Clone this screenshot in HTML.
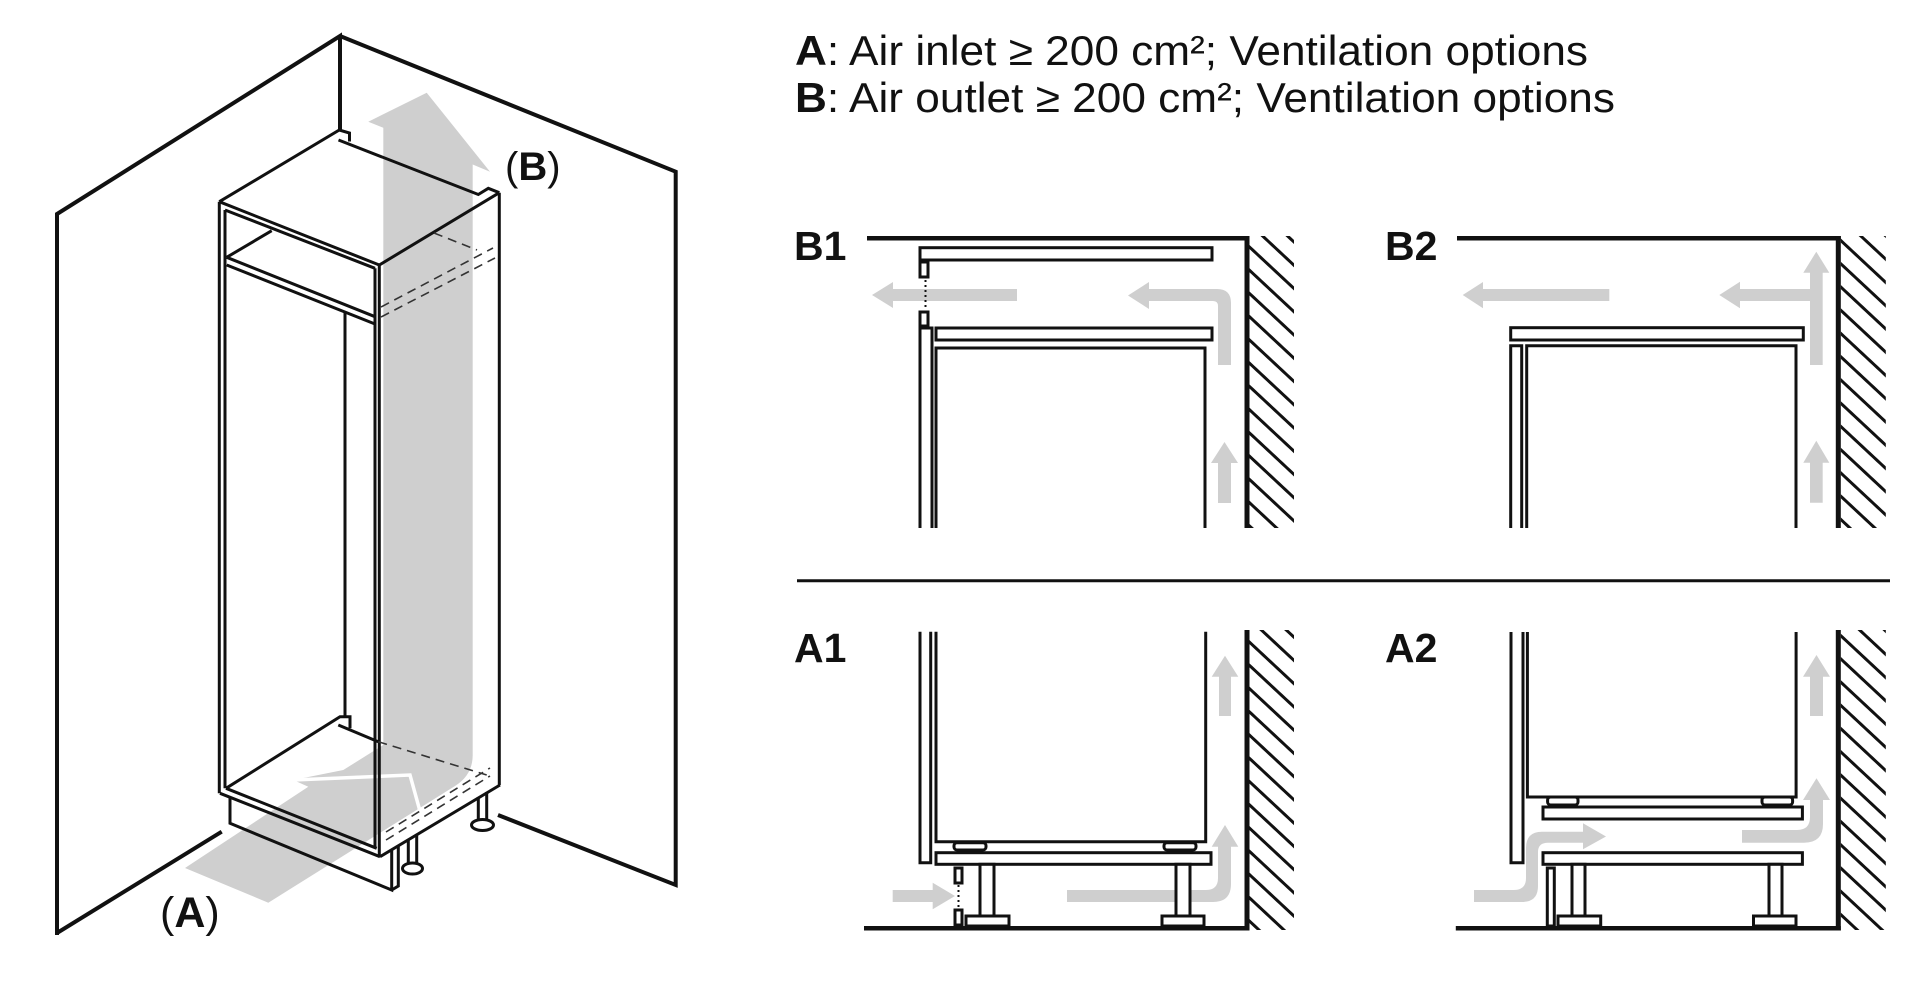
<!DOCTYPE html>
<html><head><meta charset="utf-8"><style>
html,body{margin:0;padding:0;background:#fff;}
svg{display:block;}
text{font-family:"Liberation Sans",Arial,sans-serif;fill:#111;}
</style></head><body>
<svg width="1928" height="1007" viewBox="0 0 1928 1007" xmlns="http://www.w3.org/2000/svg">
<defs>
<pattern id="h" patternUnits="userSpaceOnUse" width="40" height="17" patternTransform="rotate(43)">
<line x1="-5" y1="8.5" x2="45" y2="8.5" stroke="#111" stroke-width="3"/>
</pattern>
</defs>
<rect width="1928" height="1007" fill="#fff"/>

<!-- ============ LEFT ISOMETRIC DRAWING ============ -->
<g fill="#cfcfcf" stroke="none">
<path d="M185,868 L308.3,786.7 L293.3,780 L343.3,770 L383.3,745 L383.3,127.8 L368.3,121.7 L426.7,92.7 L490,171.7 L472.7,164.5 L472.7,755 Q472.7,775 455,786 L268.3,902.7 Z"/>
</g>
<path d="M293.3,780 L410,775 L423,822 L401,826" fill="none" stroke="#fff" stroke-width="3.5" stroke-linejoin="miter"/>

<!-- walls -->
<g fill="none" stroke="#111" stroke-width="4" stroke-linejoin="miter">
<path d="M57,935 V214 L340,36 V131"/>
<path d="M340,36 L675.7,171.7 V885 L498,815"/>
<path d="M57,933 L221.7,831.7"/>
</g>

<!-- cabinet -->
<g fill="none" stroke="#111" stroke-width="3" stroke-linejoin="miter">
<path d="M219.3,201.7 L339.3,130 L349.5,133 L349.5,141.5"/>
<path d="M338.5,140 L478.3,194.5 L488.3,188.3 L499.3,192.7"/>
<path d="M379.3,265 L499.3,192.7"/>
<path d="M219.3,201.7 L379.3,265"/>
<path d="M225,210 L375,268.3"/>
<path d="M219.3,201.7 V793.3"/>
<path d="M225,210 V788.3"/>
<path d="M379.3,265 V856.7"/>
<path d="M375,268.3 V848.3"/>
<path d="M499.3,192.7 V785"/>
<path d="M226.7,257.3 L375,316.7"/>
<path d="M226.7,265 L375,324"/>
<path d="M226.7,257.3 L271.7,230.7"/>
<path d="M345,313 V717"/>
<path d="M220,793.3 L380,856.7"/>
<path d="M226,788.3 L376.7,848.3"/>
<path d="M226,788.3 L340,716.7 L350,716.7 L350,728.3"/>
<path d="M338.3,725 L378.3,741.7"/>
<path d="M380,856.7 L500,785"/>
<path d="M230,798 V823.3 L391.7,890 V850"/>
<path d="M391.7,890 L398.3,886 V846"/>
<path d="M408.3,839 V866 M416.7,834 V866"/>
<path d="M478.3,797 V823 M486.7,792 V823"/>
</g>
<g fill="#fff" stroke="#111" stroke-width="3">
<ellipse cx="412.5" cy="868.5" rx="10" ry="5.5"/>
<ellipse cx="482.5" cy="825" rx="11" ry="5.5"/>
</g>
<g fill="none" stroke="#333" stroke-width="1.6" stroke-dasharray="9 6">
<path d="M381,307 L493,248"/>
<path d="M381,317 L495,258"/>
<path d="M434,233 L477,250"/>
<path d="M378.3,741.7 L486.7,775"/>
<path d="M386,840 L490,776"/>
<path d="M386,832 L490,768"/>
</g>

<text x="505" y="180" font-size="40">(<tspan font-weight="bold">B</tspan>)</text>
<text x="160" y="927" font-size="43">(<tspan font-weight="bold">A</tspan>)</text>

<!-- ============ HEADER TEXT ============ -->
<text x="795" y="65" font-size="42" textLength="793" lengthAdjust="spacingAndGlyphs"><tspan font-weight="bold">A</tspan>: Air inlet ≥ 200 cm²; Ventilation options</text>
<text x="795" y="112" font-size="42" textLength="820" lengthAdjust="spacingAndGlyphs"><tspan font-weight="bold">B</tspan>: Air outlet ≥ 200 cm²; Ventilation options</text>

<!-- labels -->
<g font-size="41" font-weight="bold">
<text x="794" y="260">B1</text>
<text x="1385" y="260">B2</text>
<text x="794" y="662">A1</text>
<text x="1385" y="662">A2</text>
</g>

<!-- separator -->
<path d="M797,580.7 H1890" stroke="#111" stroke-width="3"/>

<!-- hatches -->
<rect x="1249.5" y="236" width="44.5" height="292" fill="url(#h)"/>
<rect x="1840.8" y="236" width="45" height="292" fill="url(#h)"/>
<rect x="1249.5" y="630" width="44.5" height="300" fill="url(#h)"/>
<rect x="1840.8" y="630" width="45" height="300" fill="url(#h)"/>

<!-- gray arrows -->
<g fill="#cfcfcf" stroke="none">
<path d="M872,295 L893,282 L893,289 L1017,289 L1017,301 L893,301 L893,308 Z"/>
<path d="M1128,295.5 L1149,282 L1149,289 L1217,289 Q1231,289 1231,303 L1231,365 L1218,365 L1218,306 Q1218,301 1213,301 L1149,301 L1149,309 Z"/>
<path d="M1224.5,442 L1238,463 L1231,463 L1231,503 L1218,503 L1218,463 L1211,463 Z"/>

<path d="M1462.7,295 L1483,282 L1483,289 L1609.3,289 L1609.3,301 L1483,301 L1483,308.3 Z"/>
<path d="M1816.3,251.7 L1829.3,272.7 L1822.7,272.7 L1822.7,365 L1810,365 L1810,301 L1740,301 L1740,308.3 L1719.3,295 L1740,281.7 L1740,289 L1810,289 L1810,272.7 L1803.3,272.7 Z"/>
<path d="M1816.3,440.7 L1829.3,462.7 L1822.7,462.7 L1822.7,502.7 L1810,502.7 L1810,462.7 L1803.3,462.7 Z"/>

<path d="M892.7,890 L932.7,890 L932.7,882.7 L955,896 L932.7,909.3 L932.7,902 L892.7,902 Z"/>
<path d="M1067,890 L1206,890 Q1218,890 1218,878 L1218,846.7 L1211.7,846.7 L1225,825 L1238.3,846.7 L1231,846.7 L1231,884 Q1231,902 1213,902 L1067,902 Z"/>
<path d="M1225,655.7 L1238.3,676.7 L1231,676.7 L1231,716 L1219,716 L1219,676.7 L1211.7,676.7 Z"/>

<path d="M1474,890 L1514,890 Q1526,890 1526,878 L1526,848 Q1526,831.7 1542,831.7 L1583,831.7 L1583,823.3 L1606,836.5 L1583,849.3 L1583,842.7 L1548,842.7 Q1538,842.7 1538,852 L1538,886 Q1538,902 1522,902 L1474,902 Z"/>
<path d="M1742,830 L1797,830 Q1810,830 1810,817 L1810,800 L1803,800 L1816.5,778.3 L1830,800 L1823,800 L1823,824 Q1823,842.7 1804,842.7 L1742,842.7 Z"/>
<path d="M1816.5,655 L1830,676.7 L1823,676.7 L1823,716 L1810,716 L1810,676.7 L1803,676.7 Z"/>
</g>

<!-- ============ B1 ============ -->
<g fill="none" stroke="#111">
<path d="M867,238.3 H1249.5" stroke-width="4.5"/>
<path d="M1247,236 V528" stroke-width="5"/>
</g>
<g fill="#fff" stroke="#111" stroke-width="3">
<rect x="920" y="247.7" width="292" height="12.3"/>
<rect x="920" y="262" width="8" height="15"/>
<rect x="920" y="312" width="8" height="14"/>
<rect x="936" y="328" width="276" height="12"/>
</g>
<path d="M925.5,280 V310" stroke="#111" stroke-width="2" stroke-dasharray="2 3"/>
<g fill="none" stroke="#111" stroke-width="3">
<path d="M920,528 V328 H932 V528"/>
<path d="M936,528 V348 H1205 V528"/>
</g>

<!-- ============ B2 ============ -->
<g fill="none" stroke="#111">
<path d="M1457,238.3 H1840.8" stroke-width="4.5"/>
<path d="M1838.3,236 V528" stroke-width="5"/>
</g>
<g fill="#fff" stroke="#111" stroke-width="3">
<rect x="1510.7" y="327.7" width="292.6" height="12.3"/>
</g>
<g fill="none" stroke="#111" stroke-width="3">
<path d="M1510.7,528 V345.7 H1521.7 V528"/>
<path d="M1526.7,528 V345.7 H1796 V528"/>
</g>

<!-- ============ A1 ============ -->
<g fill="none" stroke="#111">
<path d="M1247,630 V930.5" stroke-width="5"/>
<path d="M864,928.3 H1249.5" stroke-width="4.5"/>
</g>
<g fill="none" stroke="#111" stroke-width="3">
<path d="M920,631.7 V862.7 H930.7 V631.7"/>
<path d="M936,631.7 V841.7 H1205.7 V631.7"/>
</g>
<g fill="#fff" stroke="#111" stroke-width="3">
<rect x="954" y="842.7" width="32" height="7.3" rx="3"/>
<rect x="1164" y="842.7" width="32" height="7.3" rx="3"/>
<rect x="936" y="852.7" width="275" height="11.6"/>
<rect x="980" y="864.3" width="14" height="51.7"/>
<rect x="1176" y="864.3" width="14" height="51.7"/>
<rect x="966" y="916" width="43" height="10"/>
<rect x="1162" y="916" width="42" height="10"/>
<rect x="955" y="868" width="7" height="15"/>
<rect x="955" y="910" width="7" height="15"/>
</g>
<path d="M958.5,885 V909" stroke="#111" stroke-width="2" stroke-dasharray="2 3"/>

<!-- ============ A2 ============ -->
<g fill="none" stroke="#111">
<path d="M1838.3,630 V930.5" stroke-width="5"/>
<path d="M1455.8,928.3 H1840.8" stroke-width="4.5"/>
</g>
<g fill="none" stroke="#111" stroke-width="3">
<path d="M1511,632 V862.7 H1523 V632"/>
<path d="M1527.4,632 V797 H1796.1 V632"/>
</g>
<g fill="#fff" stroke="#111" stroke-width="3">
<rect x="1547.6" y="797" width="30.4" height="8" rx="3"/>
<rect x="1762" y="797" width="30.6" height="8" rx="3"/>
<rect x="1543" y="807" width="259.4" height="12"/>
<rect x="1543" y="852.7" width="259.4" height="11.6"/>
<rect x="1572" y="864.3" width="13" height="51.7"/>
<rect x="1769" y="864.3" width="13" height="51.7"/>
<rect x="1558" y="916" width="42.7" height="10"/>
<rect x="1753.5" y="916" width="42.5" height="10"/>
<rect x="1547.3" y="868" width="7" height="58"/>
</g>
</svg>
</body></html>
